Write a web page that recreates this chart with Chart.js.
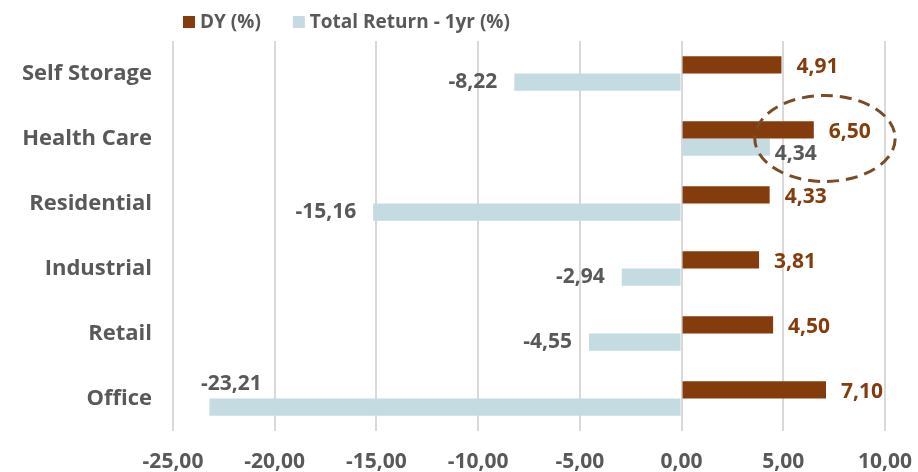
<!DOCTYPE html>
<html>
<head>
<meta charset="utf-8">
<script src="https://cdn.jsdelivr.net/npm/chart.js@4.4.0/dist/chart.umd.min.js"></script>
<style>
  html, body { margin: 0; padding: 0; background: #fff; }
  #wrap { width: 918px; height: 472px; }
</style>
</head>
<body>
<div id="wrap"><canvas id="chart"></canvas></div>
<script>
/* ---- dados ---- */
const categorias  = ['Self Storage', 'Health Care', 'Residential', 'Industrial', 'Retail', 'Office'];
const dy          = [4.91, 6.50, 4.33, 3.81, 4.50, 7.10];
const totalReturn = [-8.22, 4.34, -15.16, -2.94, -4.55, -23.21];
const legendas    = ['DY (%)', 'Total Return - 1yr (%)'];

const COR_DY = '#843C0C';
const COR_TR = '#C4DBE2';
const CINZA  = '#595959';

const fmt = v => v.toFixed(2).replace('.', ',');

/* ---- rótulos, legenda e elipse ---- */
const extras = {
  id: 'extras',
  afterDatasetsDraw(chart) {
    const ctx = chart.ctx;
    const x = chart.scales.x, y = chart.scales.y;
    ctx.save();
    ctx.font = 'bold 21px "Open Sans"';
    ctx.textBaseline = 'middle';

    chart.getDatasetMeta(0).data.forEach((bar, i) => {
      ctx.fillStyle = COR_DY;
      ctx.textAlign = 'left';
      ctx.fillText(fmt(dy[i]), bar.x + 15, bar.y + 2);
    });

    chart.getDatasetMeta(1).data.forEach((bar, i) => {
      const v = totalReturn[i];
      ctx.fillStyle = CINZA;
      if (v < -20) {
        ctx.textAlign = 'center';
        ctx.fillText(fmt(v), bar.x + 22, bar.y - 23);
      } else if (v < 0) {
        ctx.textAlign = 'right';
        ctx.fillText(fmt(v), bar.x - 17, bar.y);
      } else {
        ctx.textAlign = 'left';
        ctx.fillText(fmt(v), bar.x + 5, bar.y + 7);
      }
    });

    // elipse tracejada em Health Care
    const cx = x.getPixelForValue(7.05);
    const cy = y.getPixelForValue(1);
    const rx = x.getPixelForValue(3.45) - x.getPixelForValue(0);
    ctx.beginPath();
    ctx.ellipse(cx, cy, rx, 43, 0, 0, Math.PI * 2);
    ctx.setLineDash([12, 7]);
    ctx.lineWidth = 3;
    ctx.strokeStyle = '#7B4A26';
    ctx.stroke();
    ctx.setLineDash([]);

    // legenda
    ctx.font = 'bold 19px "Open Sans"';
    ctx.textAlign = 'left';
    let lx = 183;
    [COR_DY, COR_TR].forEach((c, i) => {
      ctx.fillStyle = c;
      ctx.fillRect(lx, 16, 12, 12);
      ctx.fillStyle = CINZA;
      ctx.fillText(legendas[i], lx + 17, 23);
      lx += 17 + ctx.measureText(legendas[i]).width + 32;
    });
    ctx.restore();
  }
};

new Chart(document.getElementById('chart'), {
  type: 'bar',
  data: {
    labels: categorias,
    datasets: [
      { label: legendas[0], data: dy, backgroundColor: COR_DY },
      { label: legendas[1], data: totalReturn, backgroundColor: COR_TR }
    ]
  },
  options: {
    indexAxis: 'y',
    responsive: true,
    maintainAspectRatio: false,
    animation: false,
    layout: { padding: { top: 41, right: 1, left: 0, bottom: 0 } },
    datasets: { bar: { categoryPercentage: 0.53, barPercentage: 1 } },
    plugins: {
      legend: { display: false },
      tooltip: { enabled: false }
    },
    scales: {
      x: {
        min: -25, max: 10,
        ticks: {
          stepSize: 5,
          callback: v => fmt(v),
          color: CINZA,
          font: { family: 'Open Sans', size: 21, weight: 'bold' },
          padding: 18
        },
        afterFit: s => { s.height = 41; s.paddingRight = 33; s.paddingLeft = 0; },
        grid: { color: '#D9D9D9', lineWidth: 2, drawTicks: false },
        border: { display: false }
      },
      y: {
        ticks: {
          color: CINZA,
          font: { family: 'Open Sans', size: 22, weight: 'bold' },
          padding: 21
        },
        afterFit: s => { s.width = 173; s.paddingTop = 0; s.paddingBottom = 0; },
        grid: { display: false, drawTicks: false },
        border: { display: false }
      }
    }
  },
  plugins: [extras]
});
</script>
</body>
</html>
